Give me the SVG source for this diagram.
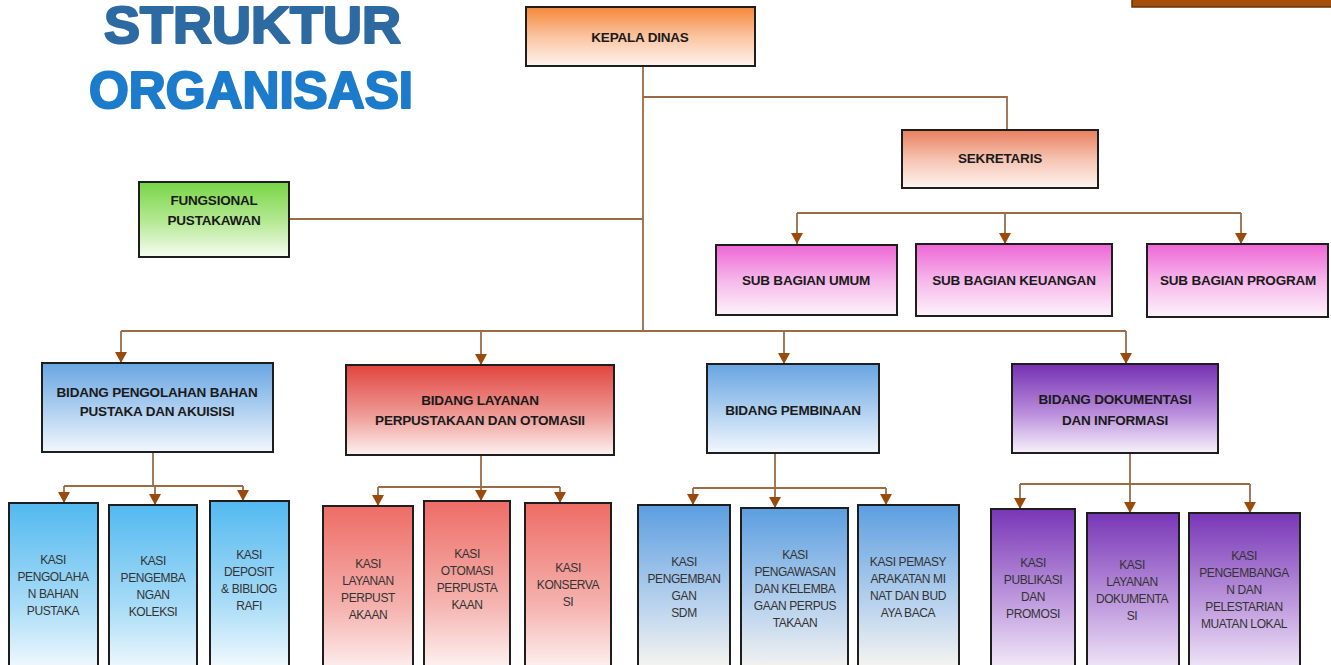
<svg xmlns="http://www.w3.org/2000/svg" width="1331" height="665" viewBox="0 0 1331 665">
<defs>
<linearGradient id="gOrange" x1="0" y1="0" x2="0" y2="1"><stop offset="0" stop-color="#f5873a"/><stop offset="0.5" stop-color="#fbc4a0"/><stop offset="1" stop-color="#fef4ee"/></linearGradient>
<linearGradient id="gGreen" x1="0" y1="0" x2="0" y2="1"><stop offset="0" stop-color="#78d545"/><stop offset="0.55" stop-color="#b8ea98"/><stop offset="1" stop-color="#f7fdf3"/></linearGradient>
<linearGradient id="gSalmon" x1="0" y1="0" x2="0" y2="1"><stop offset="0" stop-color="#e87f5e"/><stop offset="0.5" stop-color="#f6c3b1"/><stop offset="1" stop-color="#fdf4f0"/></linearGradient>
<linearGradient id="gPink" x1="0" y1="0" x2="0" y2="1"><stop offset="0" stop-color="#ee66d6"/><stop offset="0.5" stop-color="#f6b6ea"/><stop offset="1" stop-color="#fdf3fb"/></linearGradient>
<linearGradient id="gBlue" x1="0" y1="0" x2="0" y2="1"><stop offset="0" stop-color="#68a5e2"/><stop offset="0.55" stop-color="#b3d2f1"/><stop offset="1" stop-color="#f2f7fd"/></linearGradient>
<linearGradient id="gRed" x1="0" y1="0" x2="0" y2="1"><stop offset="0" stop-color="#e1443e"/><stop offset="0.55" stop-color="#ee9a95"/><stop offset="1" stop-color="#fdf2f1"/></linearGradient>
<linearGradient id="gPurple" x1="0" y1="0" x2="0" y2="1"><stop offset="0" stop-color="#7530b3"/><stop offset="0.55" stop-color="#b98ddb"/><stop offset="1" stop-color="#f8f2fc"/></linearGradient>
<linearGradient id="kSky" x1="0" y1="0" x2="0" y2="1"><stop offset="0" stop-color="#52b9f0"/><stop offset="0.6" stop-color="#a9dcf7"/><stop offset="1" stop-color="#f6fbfe"/></linearGradient>
<linearGradient id="kRed" x1="0" y1="0" x2="0" y2="1"><stop offset="0" stop-color="#ee6c66"/><stop offset="0.6" stop-color="#f5b3af"/><stop offset="1" stop-color="#fdf5f5"/></linearGradient>
<linearGradient id="kBlue" x1="0" y1="0" x2="0" y2="1"><stop offset="0" stop-color="#5c9ee0"/><stop offset="0.6" stop-color="#bcd4ee"/><stop offset="1" stop-color="#fdf8f0"/></linearGradient>
<linearGradient id="kPurple" x1="0" y1="0" x2="0" y2="1"><stop offset="0" stop-color="#7836b6"/><stop offset="0.6" stop-color="#c7a6e2"/><stop offset="1" stop-color="#fbf7fd"/></linearGradient>
<marker id="arr" markerWidth="12" markerHeight="12" refX="6" refY="11" orient="0" markerUnits="userSpaceOnUse"><path d="M0,0 L12,0 L6,11 Z" fill="#9a4b0c"/></marker>
</defs>
<style>
.box{stroke:#1e1e1e;stroke-width:2}
.lbl{font-family:"Liberation Sans",Arial,sans-serif;font-weight:bold;font-size:13.5px;fill:#1a1a1a;text-anchor:middle;letter-spacing:-0.2px}
.ks{font-family:"Liberation Sans",Arial,sans-serif;font-size:12px;fill:#333;text-anchor:middle;letter-spacing:-0.4px}
.conn{stroke:#9c6a45;stroke-width:1.8;fill:none}
.ar{stroke:#9c6a45;stroke-width:1.8;fill:none;marker-end:url(#arr)}
.title{font-family:"Liberation Sans",Arial,sans-serif;font-weight:bold;font-size:51px;stroke-width:2.2;stroke-linejoin:round}
</style>
<rect width="1331" height="665" fill="#ffffff"/>
<text class="title" x="104" y="43" fill="#2d6aa2" stroke="#2d6aa2" textLength="297" lengthAdjust="spacingAndGlyphs">STRUKTUR</text>
<text class="title" x="89" y="108" fill="#1c7bcb" stroke="#1c7bcb" textLength="324" lengthAdjust="spacingAndGlyphs">ORGANISASI</text>
<rect x="1132" y="-2" width="201" height="9" fill="#a34f0b" stroke="#6a3206" stroke-width="1.5"/>

<g id="connectors">
<path class="conn" d="M643,66 V331 M643,97 H1007 V130 M289,219 H643 M797,213 H1241 M121,331 H1126 M153,452 V486 M64,486 H243 M481,455 V487 M378,487 H560 M775,453 V488 M693,488 H886 M1130,453 V484 M1020,484 H1250"/>
<path class="ar" d="M797,213 V244"/><path class="ar" d="M1005,213 V244"/><path class="ar" d="M1241,213 V244"/>
<path class="ar" d="M121,331 V363"/><path class="ar" d="M481,331 V365"/><path class="ar" d="M784,331 V364"/><path class="ar" d="M1126,331 V364"/>
<path class="ar" d="M64,486 V503"/><path class="ar" d="M155,486 V505"/><path class="ar" d="M243,486 V501"/>
<path class="ar" d="M378,487 V506"/><path class="ar" d="M481,487 V501"/><path class="ar" d="M560,487 V503"/>
<path class="ar" d="M693,488 V505"/><path class="ar" d="M775,488 V508"/><path class="ar" d="M886,488 V505"/>
<path class="ar" d="M1020,484 V509"/><path class="ar" d="M1130,484 V513"/><path class="ar" d="M1250,484 V513"/>
</g>

<g id="kepala"><rect class="box" x="526" y="7" width="229" height="59" fill="url(#gOrange)"/><text class="lbl" x="640" y="42">KEPALA DINAS</text></g>
<g id="sekretaris"><rect class="box" x="902" y="130" width="196" height="58" fill="url(#gSalmon)"/><text class="lbl" x="1000" y="163">SEKRETARIS</text></g>
<g id="fungsional"><rect class="box" x="139" y="182" width="150" height="75" fill="url(#gGreen)"/><text class="lbl" x="214" y="205">FUNGSIONAL</text><text class="lbl" x="214" y="225">PUSTAKAWAN</text></g>
<g id="sub-umum"><rect class="box" x="716" y="245" width="181" height="70" fill="url(#gPink)"/><text class="lbl" x="806" y="285">SUB BAGIAN  UMUM</text></g>
<g id="sub-keuangan"><rect class="box" x="916" y="244" width="196" height="72" fill="url(#gPink)"/><text class="lbl" x="1014" y="285">SUB BAGIAN KEUANGAN</text></g>
<g id="sub-program"><rect class="box" x="1147" y="244" width="181" height="73" fill="url(#gPink)"/><text class="lbl" x="1238" y="285">SUB BAGIAN  PROGRAM</text></g>

<g id="bidang-pengolahan"><rect class="box" x="42" y="363" width="231" height="89" fill="url(#gBlue)"/><text class="lbl" x="157" y="397">BIDANG  PENGOLAHAN BAHAN</text><text class="lbl" x="157" y="416">PUSTAKA DAN AKUISISI</text></g>
<g id="bidang-layanan"><rect class="box" x="346" y="365" width="268" height="90" fill="url(#gRed)"/><text class="lbl" x="480" y="405">BIDANG  LAYANAN</text><text class="lbl" x="480" y="425">PERPUSTAKAAN  DAN  OTOMASII</text></g>
<g id="bidang-pembinaan"><rect class="box" x="707" y="364" width="172" height="89" fill="url(#gBlue)"/><text class="lbl" x="793" y="415">BIDANG PEMBINAAN</text></g>
<g id="bidang-dokumentasi"><rect class="box" x="1012" y="364" width="206" height="89" fill="url(#gPurple)"/><text class="lbl" x="1115" y="404">BIDANG DOKUMENTASI</text><text class="lbl" x="1115" y="425">DAN INFORMASI</text></g>

<g id="kasi-pengolahan"><rect class="box" x="9" y="503" width="89" height="170" fill="url(#kSky)"/><text class="ks"><tspan x="53" y="564">KASI</tspan><tspan x="53" y="581">PENGOLAHA</tspan><tspan x="53" y="598">N BAHAN</tspan><tspan x="53" y="615">PUSTAKA</tspan></text></g>
<g id="kasi-pengembangan"><rect class="box" x="109" y="505" width="88" height="170" fill="url(#kSky)"/><text class="ks"><tspan x="153" y="565">KASI</tspan><tspan x="153" y="582">PENGEMBA</tspan><tspan x="153" y="599">NGAN</tspan><tspan x="153" y="616">KOLEKSI</tspan></text></g>
<g id="kasi-deposit"><rect class="box" x="210" y="501" width="79" height="170" fill="url(#kSky)"/><text class="ks"><tspan x="249" y="559">KASI</tspan><tspan x="249" y="576">DEPOSIT</tspan><tspan x="249" y="593">&amp; BIBLIOG</tspan><tspan x="249" y="610">RAFI</tspan></text></g>

<g id="kasi-layanan"><rect class="box" x="323" y="506" width="90" height="170" fill="url(#kRed)"/><text class="ks"><tspan x="368" y="568">KASI</tspan><tspan x="368" y="585">LAYANAN</tspan><tspan x="368" y="602">PERPUST</tspan><tspan x="368" y="619">AKAAN</tspan></text></g>
<g id="kasi-otomasi"><rect class="box" x="424" y="501" width="86" height="170" fill="url(#kRed)"/><text class="ks"><tspan x="467" y="558">KASI</tspan><tspan x="467" y="575">OTOMASI</tspan><tspan x="467" y="592">PERPUSTA</tspan><tspan x="467" y="609">KAAN</tspan></text></g>
<g id="kasi-konservasi"><rect class="box" x="525" y="503" width="86" height="170" fill="url(#kRed)"/><text class="ks"><tspan x="568" y="572">KASI</tspan><tspan x="568" y="589">KONSERVA</tspan><tspan x="568" y="606">SI</tspan></text></g>

<g id="kasi-sdm"><rect class="box" x="638" y="505" width="92" height="170" fill="url(#kBlue)"/><text class="ks"><tspan x="684" y="566">KASI</tspan><tspan x="684" y="583">PENGEMBAN</tspan><tspan x="684" y="600">GAN</tspan><tspan x="684" y="617">SDM</tspan></text></g>
<g id="kasi-pengawasan"><rect class="box" x="741" y="508" width="107" height="170" fill="url(#kBlue)"/><text class="ks"><tspan x="795" y="559">KASI</tspan><tspan x="795" y="576">PENGAWASAN</tspan><tspan x="795" y="593">DAN KELEMBA</tspan><tspan x="795" y="610">GAAN PERPUS</tspan><tspan x="795" y="627">TAKAAN</tspan></text></g>
<g id="kasi-pemasyarakatan"><rect class="box" x="858" y="505" width="101" height="170" fill="url(#kBlue)"/><text class="ks"><tspan x="908" y="566">KASI PEMASY</tspan><tspan x="908" y="583">ARAKATAN MI</tspan><tspan x="908" y="600">NAT DAN BUD</tspan><tspan x="908" y="617">AYA BACA</tspan></text></g>

<g id="kasi-publikasi"><rect class="box" x="991" y="509" width="84" height="170" fill="url(#kPurple)"/><text class="ks"><tspan x="1033" y="567">KASI</tspan><tspan x="1033" y="584">PUBLIKASI</tspan><tspan x="1033" y="601">DAN</tspan><tspan x="1033" y="618">PROMOSI</tspan></text></g>
<g id="kasi-dokumentasi"><rect class="box" x="1087" y="513" width="92" height="170" fill="url(#kPurple)"/><text class="ks"><tspan x="1132" y="569">KASI</tspan><tspan x="1132" y="586">LAYANAN</tspan><tspan x="1132" y="603">DOKUMENTA</tspan><tspan x="1132" y="620">SI</tspan></text></g>
<g id="kasi-muatan-lokal"><rect class="box" x="1189" y="513" width="111" height="170" fill="url(#kPurple)"/><text class="ks"><tspan x="1244" y="560">KASI</tspan><tspan x="1244" y="577">PENGEMBANGA</tspan><tspan x="1244" y="594">N DAN</tspan><tspan x="1244" y="611">PELESTARIAN</tspan><tspan x="1244" y="628">MUATAN LOKAL</tspan></text></g>
</svg>
